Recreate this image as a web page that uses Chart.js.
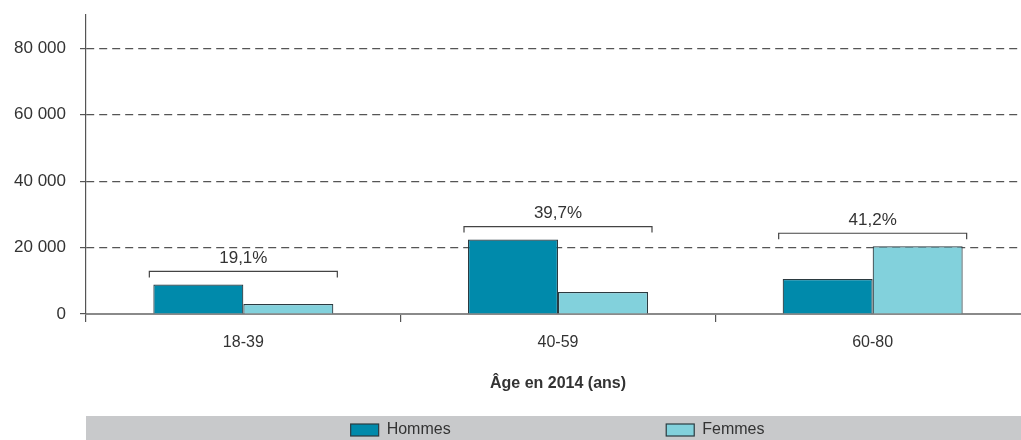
<!DOCTYPE html>
<html>
<head>
<meta charset="utf-8">
<script src="https://cdn.jsdelivr.net/npm/chart.js@4.4.1/dist/chart.umd.min.js"></script>
<style>
  html, body { margin: 0; padding: 0; background: #fff; overflow: hidden; }
  #wrap { width: 1030px; height: 440px; position: relative; }
</style>
</head>
<body>
<div id="wrap"><canvas id="chart"></canvas></div>
<script>
// données
const categories = ['18-39', '40-59', '60-80'];
const hommes = [8900, 22400, 10500];
const femmes = [3000, 6600, 20400];
const groupShares = ['19,1%', '39,7%', '41,2%'];
const yTicks = [0, 20000, 40000, 60000, 80000];
const seriesNames = ['Hommes', 'Femmes'];
const seriesColors = ['#008aab', '#82d1dc'];

const FONT = "'Liberation Sans', Arial, sans-serif";
const TEXT = '#333';

function formatNumber(v) {
  return String(v).replace(/\B(?=(\d{3})+(?!\d))/g, ' ');
}

// accolades + pourcentages au-dessus de chaque groupe
const bracketPlugin = {
  id: 'brackets',
  afterDatasetsDraw(chart) {
    const ctx = chart.ctx;
    const m0 = chart.getDatasetMeta(0).data;
    const m1 = chart.getDatasetMeta(1).data;
    ctx.save();
    ctx.strokeStyle = '#444';
    ctx.lineWidth = 1.2;
    ctx.fillStyle = TEXT;
    ctx.font = '17px ' + FONT;
    ctx.textAlign = 'center';
    ctx.textBaseline = 'middle';
    categories.forEach((c, i) => {
      const a = m0[i], b = m1[i];
      const left = a.x - a.width / 2 - 4;
      const right = b.x + b.width / 2 + 4;
      const y = Math.min(a.y, b.y) - 13;
      ctx.beginPath();
      ctx.moveTo(left, y + 6);
      ctx.lineTo(left, y);
      ctx.lineTo(right, y);
      ctx.lineTo(right, y + 6);
      ctx.stroke();
      ctx.fillText(groupShares[i], (left + right) / 2, y - 13);
    });
    ctx.restore();
  }
};

// légende sur bandeau gris
const legendBand = {
  id: 'legendBand',
  afterDraw(chart) {
    const ctx = chart.ctx;
    const xs = chart.scales.x;
    const top = 416;
    ctx.save();
    ctx.fillStyle = '#c8c9cb';
    ctx.fillRect(chart.chartArea.left, top, chart.width - chart.chartArea.left, chart.height - top);
    ctx.font = '16px ' + FONT;
    ctx.textBaseline = 'middle';
    ctx.textAlign = 'left';
    seriesNames.forEach((name, i) => {
      const center = (xs.getPixelForValue(i) + xs.getPixelForValue(i + 1)) / 2;
      const tw = ctx.measureText(name).width;
      const total = 28 + 8 + tw;
      const x0 = center - total / 2;
      ctx.fillStyle = seriesColors[i];
      ctx.fillRect(x0, top + 8, 28, 12);
      ctx.strokeStyle = '#2b3a40';
      ctx.lineWidth = 1.2;
      ctx.strokeRect(x0, top + 8, 28, 12);
      ctx.fillStyle = TEXT;
      ctx.fillText(name, x0 + 36, top + 14);
    });
    ctx.restore();
  }
};

new Chart(document.getElementById('chart'), {
  type: 'bar',
  data: {
    labels: categories,
    datasets: [
      { label: seriesNames[0], data: hommes, backgroundColor: seriesColors[0], borderColor: '#2b3a40', borderWidth: 1.2 },
      { label: seriesNames[1], data: femmes, backgroundColor: seriesColors[1], borderColor: '#2b3a40', borderWidth: 1.2 }
    ]
  },
  options: {
    responsive: true,
    maintainAspectRatio: false,
    animation: false,
    layout: { padding: { top: 15, bottom: 30, left: 0, right: 0 } },
    datasets: { bar: { categoryPercentage: 0.572, barPercentage: 1 } },
    plugins: {
      legend: { display: false },
      tooltip: { enabled: false }
    },
    scales: {
      x: {
        grid: { drawOnChartArea: false, offset: true, tickLength: 8, color: '#555', lineWidth: 1.2 },
        border: { color: '#8a8a8a', width: 2 },
        ticks: { color: TEXT, font: { family: FONT, size: 16 }, padding: 11 },
        title: {
          display: true,
          text: 'Âge en 2014 (ans)',
          color: TEXT,
          font: { family: FONT, size: 16, weight: 'bold' },
          padding: { top: 0, bottom: 17 }
        },
        afterFit(scale) { scale.height = 96; }
      },
      y: {
        min: 0,
        max: 90000,
        afterBuildTicks(scale) { scale.ticks = yTicks.map(v => ({ value: v })); },
        afterFit(scale) {
          scale.width = 86;
          scale.paddingTop = 0;
          scale.paddingBottom = 0;
        },
        grid: { color: '#555', lineWidth: 1.2, tickLength: 6, tickColor: '#555' },
        border: { color: '#555', width: 1.2, dash: [8, 5] },
        ticks: {
          color: TEXT,
          padding: 14,
          font: { family: FONT, size: 17 },
          callback: v => formatNumber(v)
        }
      }
    }
  },
  plugins: [bracketPlugin, legendBand]
});
</script>
</body>
</html>
